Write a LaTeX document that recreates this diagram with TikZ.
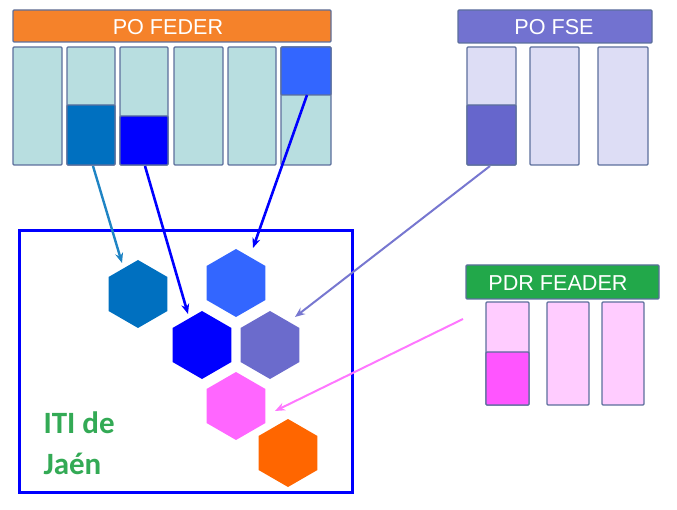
\documentclass[tikz,border=0pt]{standalone}
\usepackage{fontspec}
\setmainfont{Liberation Sans}
\newfontfamily\itifont{Carlito}
\usetikzlibrary{shapes.geometric,arrows.meta}
\definecolor{federorange}{HTML}{F5822A}
\definecolor{boxborder}{HTML}{5C6F9C}
\definecolor{federlight}{HTML}{B8DEE0}
\definecolor{federdark}{HTML}{0070C0}
\definecolor{pureblue}{HTML}{0000FF}
\definecolor{midblue}{HTML}{3366FF}
\definecolor{fsehead}{HTML}{7272D0}
\definecolor{fsedark}{HTML}{6666CC}
\definecolor{fselight}{HTML}{DDDDF5}
\definecolor{feadergreen}{HTML}{22A84A}
\definecolor{pinklight}{HTML}{FFCCFF}
\definecolor{pinkdark}{HTML}{FF55FF}
\definecolor{hexviolet}{HTML}{6B6BCC}
\definecolor{hexpink}{HTML}{FF66FF}
\definecolor{hexorange}{HTML}{FF6600}
\definecolor{itigreen}{HTML}{33AA55}
\definecolor{arrowteal}{HTML}{1F84C4}
\definecolor{arrowviolet}{HTML}{7777D0}
\definecolor{arrowpink}{HTML}{FF77FF}
\tikzset{
  colbox/.style={draw=boxborder, line width=1.2pt, rounded corners=1pt},
  headbox/.style={draw=boxborder, line width=1.2pt, rounded corners=1pt},
  headtext/.style={text=white, font=\fontsize{21.6}{24}\selectfont},
  hexa/.style={regular polygon, regular polygon sides=6, shape border rotate=30, minimum size=68pt, inner sep=0pt, outer sep=0pt, draw=none},
  conn/.style={line width=2.6pt, -{Stealth[length=10pt,width=8pt]}},
}
\begin{document}
\begin{tikzpicture}[x=1pt,y=-1pt]
\useasboundingbox (0,0) rectangle (677,510);
% ---------- PO FEDER ----------
\filldraw[headbox, fill=federorange] (13,10) rectangle (331,42);
\node[headtext] (feder) at (168,27) {PO FEDER};
\filldraw[colbox, fill=federlight] (13,47) rectangle (62,165);
\filldraw[colbox, fill=federlight] (67,47) rectangle (115,165);
\filldraw[colbox, fill=federdark] (67,105) rectangle (115,165);
\filldraw[colbox, fill=federlight] (120,47) rectangle (168,165);
\filldraw[colbox, fill=pureblue] (120,116) rectangle (168,165);
\filldraw[colbox, fill=federlight] (174,47) rectangle (223,165);
\filldraw[colbox, fill=federlight] (228,47) rectangle (276,165);
\filldraw[colbox, fill=federlight] (281,47) rectangle (331,165);
\filldraw[colbox, fill=midblue] (281,47) rectangle (331,95);
% ---------- PO FSE ----------
\filldraw[headbox, fill=fsehead] (458,10) rectangle (652,43);
\node[headtext] (fse) at (554,27) {PO FSE};
\filldraw[colbox, fill=fselight] (467,47) rectangle (516,165);
\filldraw[colbox, fill=fsedark] (467,105) rectangle (516,165);
\filldraw[colbox, fill=fselight] (530,47) rectangle (579,165);
\filldraw[colbox, fill=fselight] (598,47) rectangle (648,165);
% ---------- PDR FEADER ----------
\filldraw[headbox, fill=feadergreen] (466,265) rectangle (659,299);
\node[headtext] (feader) at (558,283) {PDR FEADER};
\filldraw[colbox, fill=pinklight] (486,302) rectangle (529,405);
\filldraw[colbox, fill=pinkdark] (486,352) rectangle (529,405);
\filldraw[colbox, fill=pinklight] (547,302) rectangle (589,405);
\filldraw[colbox, fill=pinklight] (602,302) rectangle (644,405);
% ---------- ITI box ----------
\draw[pureblue, line width=3pt] (19,231) rectangle (352,492);
\node[anchor=base west, text=itigreen, font=\itifont\bfseries\fontsize{31}{34}\selectfont] (iti1) at (40,433) {ITI de};
\node[anchor=base west, text=itigreen, font=\itifont\bfseries\fontsize{31}{34}\selectfont] (iti2) at (40,474) {Jaén};
% ---------- hexagons ----------
\node[hexa, fill=federdark] (hex1) at (138,294) {};
\node[hexa, fill=midblue] (hex2) at (236,283) {};
\node[hexa, fill=pureblue] (hex3) at (202,345) {};
\node[hexa, fill=hexviolet] (hex4) at (270,345) {};
\node[hexa, fill=hexpink] (hex5) at (236,406) {};
\node[hexa, fill=hexorange] (hex6) at (288,453) {};
% ---------- connectors ----------
\coordinate (s1) at (93,166);
\coordinate (e1) at (122,263);
\coordinate (s2) at (145,166);
\coordinate (e2) at (188,314);
\coordinate (s3) at (307,95);
\coordinate (e3) at (253,248);
\coordinate (s4) at (490,166);
\coordinate (e4) at (295,317);
\coordinate (s5) at (463,319);
\coordinate (e5) at (275,411);
\draw[conn, arrowteal, line width=2.4pt] (s1) -- (e1);
\draw[conn, pureblue] (s2) -- (e2);
\draw[conn, pureblue] (s3) -- (e3);
\draw[conn, arrowviolet, line width=2pt] (s4) -- (e4);
\draw[conn, arrowpink, line width=2pt] (s5) -- (e5);
\end{tikzpicture}
\end{document}
